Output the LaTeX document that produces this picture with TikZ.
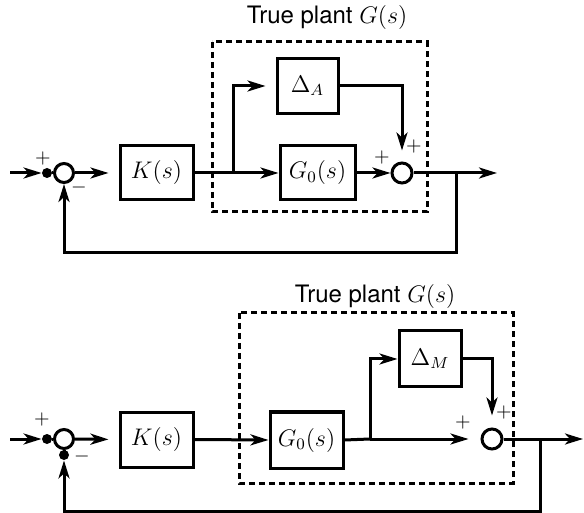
\documentclass[tikz,border=0pt]{standalone}
\usepackage{fontspec}
\setmainfont{TeX Gyre Heros}
\usetikzlibrary{arrows.meta}

\begin{document}
\begin{tikzpicture}[x=0.5pt,y=-0.5pt,
    blk/.style={draw,line width=1.5pt,inner sep=0pt,font=\fontsize{12}{14}\selectfont},
    sumj/.style={circle,draw,line width=1.5pt,minimum size=9.5pt,inner sep=0pt},
    jdot/.style={circle,fill,minimum size=5pt,inner sep=0pt},
    sig/.style={line width=1.5pt},
    sigar/.style={sig,-{Stealth[length=9pt,width=5.5pt,inset=2.5pt]}},
    sgn/.style={font=\fontsize{10}{11}\selectfont,inner sep=0pt},
    plant/.style={draw,line width=1.5pt,dash pattern=on 3pt off 2pt},
    ttl/.style={font=\fontsize{12}{14}\selectfont}]
    \useasboundingbox (0,0) rectangle (584,513);
    % additive uncertainty
    \draw[plant] (212,42) rectangle (427,212);
    \node[ttl] (ttlA) at (327,18) {True plant $G(s)$};
    \coordinate (inA) at (10,173);
    \node[jdot] (dotA) at (47,173) {};
    \node[sumj] (sumA) at (64,173) {};
    \node[sgn] (pA1) at (43,159) {$+$};
    \node[sgn] (mA1) at (79,188) {$-$};
    \node[blk,minimum width=36.5pt,minimum height=27pt] (KA) at (156.5,173) {$K(s)$};
    \coordinate (brA) at (233,173);
    \node[blk,minimum width=37.5pt,minimum height=27pt] (GA) at (317.5,173) {$G_0(s)$};
    \node[blk,minimum width=30.5pt,minimum height=27.5pt] (DA) at (307.5,86) {$\Delta_A$};
    \node[sumj,minimum size=10pt] (sumoA) at (402,173) {};
    \node[sgn] (pA2) at (382,158) {$+$};
    \node[sgn] (pA3) at (414,147) {$+$};
    \coordinate (brA2) at (456,173);
    \coordinate (outA) at (497,173);
    \coordinate (fbA) at (456,253);
    \draw[sigar] (inA) -- (dotA.west);
    \draw[sig] (dotA) -- (sumA.west);
    \draw[sigar,shorten >=5pt] (sumA.east) -- (KA.west);
    \draw[sig] (KA.east) -- (brA);
    \draw[sigar] (brA) -- (GA.west);
    \draw[sigar,shorten >=5pt] (brA) |- (DA.west);
    \draw[sigar,shorten >=5.5pt] (DA.east) -| (sumoA.north);
    \draw[sigar] (GA.east) -- (sumoA.west);
    \draw[sigar] (sumoA.east) -- (outA);
    \draw[sigar] (brA2) -- (fbA) -| (sumA.south);
    % multiplicative uncertainty
    \draw[plant] (239,313) rectangle (513,483);
    \node[ttl] (ttlB) at (375,297) {True plant $G(s)$};
    \coordinate (inB) at (10,439);
    \node[jdot] (dotB) at (47,439) {};
    \node[sumj] (sumB) at (64,439) {};
    \node[jdot] (dotB2) at (64,455) {};
    \node[sgn] (pB1) at (42,419) {$+$};
    \node[sgn] (mB1) at (82,456) {$-$};
    \node[blk,minimum width=36.5pt,minimum height=27.5pt] (KB) at (156.5,439.5) {$K(s)$};
    \node[blk,minimum width=36.5pt,minimum height=28pt] (GB) at (306.5,440) {$G_0(s)$};
    \coordinate (brB) at (370,439);
    \node[blk,minimum width=31pt,minimum height=28pt] (DB) at (430,359) {$\Delta_M$};
    \node[sumj,minimum size=10pt] (sumoB) at (492,439) {};
    \node[sgn] (pB2) at (463,423) {$+$};
    \node[sgn] (pB3) at (504,412) {$+$};
    \coordinate (brB2) at (540,439);
    \coordinate (outB) at (583,439);
    \coordinate (fbB) at (540,511);
    \draw[sigar] (inB) -- (dotB.west);
    \draw[sig] (dotB) -- (sumB.west);
    \draw[sig] (dotB2) -- (sumB.south);
    \draw[sigar,shorten >=5pt] (sumB.east) -- (KB.west);
    \draw[sigar] (KB.east) -- (GB.west);
    \draw[sig] (GB.east) -- (brB);
    \draw[sigar] (brB) |- (DB.west);
    \draw[sigar,shorten >=6pt] (DB.east) -| (sumoB.north);
    \draw[sigar,shorten >=6pt] (brB) -- (sumoB.west);
    \draw[sigar] (sumoB.east) -- (outB);
    \draw[sigar] (brB2) -- (fbB) -| (dotB2.south);
\end{tikzpicture}
\end{document}
